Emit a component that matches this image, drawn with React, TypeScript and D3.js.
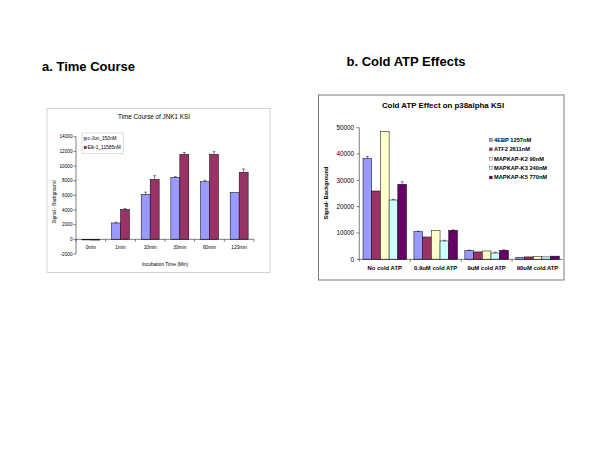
import React from "react";
import * as d3 from "d3";

// ---- Chart a data ----
const timeCats = ["0min", "1min", "10min", "30min", "60min", "120min"];
const timeSeries = ["c-Jun_150nM", "Elk-1_11585nM"];
const cJunValues = [-50, 2230, 6140, 8450, 7860, 6400];
const cJunErrors = [0, 100, 300, 100, 200, 0];
const elkValues = [-100, 4090, 8180, 11590, 11600, 9140];
const elkErrors = [0, 100, 500, 250, 350, 450];
const timeTicks = [-2000, 0, 2000, 4000, 6000, 8000, 10000, 12000, 14000];
const timeColors = ["#9999FF", "#993366"];

// ---- Chart b data ----
const atpCats = ["No cold ATP", "0.9uM cold ATP", "9uM cold ATP", "90uM cold ATP"];
const atpSeries = ["4EBP 1257nM", "ATF2 2611nM", "MAPKAP-K2 90nM", "MAPKAP-K3 240nM", "MAPKAP-K5 770nM"];
const ebpValues = [38350, 10500, 3300, 800];
const ebpErrors = [700, 200, 200, 0];
const atf2Values = [25950, 8480, 2800, 900];
const atf2Errors = [0, 0, 0, 0];
const k2Values = [48600, 11000, 3160, 1000];
const k2Errors = [0, 0, 0, 0];
const k3Values = [22530, 6960, 2400, 900];
const k3Errors = [250, 250, 300, 0];
const k5Values = [28480, 11000, 3400, 1200];
const k5Errors = [1000, 200, 200, 0];
const atpTicks = [0, 10000, 20000, 30000, 40000, 50000];
const atpColors = ["#9999FF", "#993366", "#FFFFCC", "#CCFFFF", "#660066"];

const FONT = "'Liberation Sans', Arial, sans-serif";

function ChartA() {
  const x0 = d3.scaleBand<string>().domain(timeCats).range([76, 254]);
  const y = d3.scaleLinear().domain([-2000, 14000]).range([254, 136.7]);
  const bw = x0.bandwidth() / 3.3;
  const x1 = d3.scaleBand<string>().domain(timeSeries).range([0, bw * 2]);
  const vals = [cJunValues, elkValues];
  const errs = [cJunErrors, elkErrors];
  const y0 = y(0);
  return (
    <g fontFamily={FONT}>
      <rect x={47} y={108.5} width={223} height={164} fill="white" stroke="#c8c8c8" strokeWidth={0.8} />
      <text x={154} y={119} fontSize={6.3} textAnchor="middle" fill="#000">Time Course of JNK1 KSI</text>
      {timeCats.map((c, i) => (
        <g key={c}>
          {timeSeries.map((s, j) => {
            const v = vals[j][i];
            const bx = (x0(c) as number) + (x0.bandwidth() - bw * 2) / 2 + (x1(s) as number);
            const top = y(Math.max(v, 0));
            const h = Math.abs(y(v) - y0);
            const e = errs[j][i];
            const cx = bx + bw / 2;
            return (
              <g key={s}>
                <rect x={bx} y={top} width={bw} height={Math.max(h, 0.6)} fill={timeColors[j]} stroke="#000" strokeWidth={0.5} />
                {e > 0 && (
                  <g stroke="#000" strokeWidth={0.5}>
                    <line x1={cx} x2={cx} y1={y(v)} y2={y(v + e)} />
                    <line x1={cx - 1.5} x2={cx + 1.5} y1={y(v + e)} y2={y(v + e)} />
                  </g>
                )}
              </g>
            );
          })}
        </g>
      ))}
      <line x1={76} x2={76} y1={y(14000)} y2={y(-2000)} stroke="#000" strokeWidth={0.5} />
      {timeTicks.map((t) => (
        <g key={t}>
          <line x1={73.5} x2={76} y1={y(t)} y2={y(t)} stroke="#000" strokeWidth={0.5} />
          <text x={72.5} y={y(t) + 1.7} fontSize={4.7} textAnchor="end">{t}</text>
        </g>
      ))}
      <line x1={76} x2={254} y1={y0} y2={y0} stroke="#000" strokeWidth={0.5} />
      {timeCats.map((c) => (
        <line key={"t" + c} x1={x0(c) as number} x2={x0(c) as number} y1={y0} y2={y0 + 2.5} stroke="#000" strokeWidth={0.5} />
      ))}
      <line x1={254} x2={254} y1={y0} y2={y0 + 2.5} stroke="#000" strokeWidth={0.5} />
      {timeCats.map((c) => (
        <text key={"l" + c} x={(x0(c) as number) + x0.bandwidth() / 2} y={248.5} fontSize={4.8} textAnchor="middle">{c}</text>
      ))}
      <text x={165} y={266} fontSize={4.8} textAnchor="middle">Incubation Time (Min)</text>
      <text transform="translate(55.5,202) rotate(-90)" fontSize={4.8} textAnchor="middle">Signal - Background</text>
      <rect x={82} y={133} width={41.5} height={20.5} fill="white" stroke="#c8c8c8" strokeWidth={0.6} />
      {timeSeries.map((s, j) => (
        <g key={s}>
          <rect x={84} y={137.5 + j * 8.7} width={2.6} height={2.6} fill={timeColors[j]} stroke="#000" strokeWidth={0.3} />
          <text x={87.5} y={140.3 + j * 8.7} fontSize={4.8}>{s}</text>
        </g>
      ))}
    </g>
  );
}

function ChartB() {
  const x0 = d3.scaleBand<string>().domain(atpCats).range([359.3, 563]);
  const y = d3.scaleLinear().domain([0, 50000]).range([259.3, 127.7]);
  const bw = x0.bandwidth() / 5.85;
  const x1 = d3.scaleBand<string>().domain(atpSeries).range([0, bw * 5]);
  const vals = [ebpValues, atf2Values, k2Values, k3Values, k5Values];
  const errs = [ebpErrors, atf2Errors, k2Errors, k3Errors, k5Errors];
  const y0 = y(0);
  return (
    <g fontFamily={FONT} fontWeight="bold">
      <rect x={318.5} y={95} width={245.5} height={185} fill="white" stroke="#7a7a7a" strokeWidth={1} />
      <text x={443} y={108} fontSize={7.9} textAnchor="middle">Cold ATP Effect on p38alpha KSI</text>
      {atpCats.map((c, i) => (
        <g key={c}>
          {atpSeries.map((s, j) => {
            const v = vals[j][i];
            const bx = (x0(c) as number) + (x0.bandwidth() - bw * 5) / 2 + (x1(s) as number);
            const e = errs[j][i];
            const cx = bx + bw / 2;
            return (
              <g key={s}>
                <rect x={bx} y={y(v)} width={bw} height={y0 - y(v)} fill={atpColors[j]} stroke="#000" strokeWidth={0.5} />
                {e > 0 && (
                  <g stroke="#000" strokeWidth={0.5}>
                    <line x1={cx} x2={cx} y1={y(v)} y2={y(v + e)} />
                    <line x1={cx - 1.5} x2={cx + 1.5} y1={y(v + e)} y2={y(v + e)} />
                  </g>
                )}
              </g>
            );
          })}
        </g>
      ))}
      <line x1={359.3} x2={359.3} y1={y(50000)} y2={y0} stroke="#000" strokeWidth={0.5} />
      {atpTicks.map((t) => (
        <g key={t}>
          <line x1={356.5} x2={359.3} y1={y(t)} y2={y(t)} stroke="#000" strokeWidth={0.5} />
          <text x={354} y={y(t) + 2.2} fontSize={6.3} fontWeight="normal" textAnchor="end">{t}</text>
        </g>
      ))}
      <line x1={359.3} x2={563} y1={y0} y2={y0} stroke="#000" strokeWidth={0.5} />
      {atpCats.map((c) => (
        <line key={"t" + c} x1={x0(c) as number} x2={x0(c) as number} y1={y0} y2={y0 + 2.5} stroke="#000" strokeWidth={0.5} />
      ))}
      {atpCats.map((c) => (
        <text key={"l" + c} x={(x0(c) as number) + x0.bandwidth() / 2} y={270.3} fontSize={5.9} textAnchor="middle">{c}</text>
      ))}
      <text transform="translate(327.5,193) rotate(-90)" fontSize={5.6} textAnchor="middle">Signal- Background</text>
      {atpSeries.map((s, j) => (
        <g key={s}>
          <rect x={489.5} y={138.5 + j * 9.4} width={2.8} height={2.8} fill={atpColors[j]} stroke="#000" strokeWidth={0.3} />
          <text x={494} y={141.7 + j * 9.4} fontSize={5.7}>{s}</text>
        </g>
      ))}
    </g>
  );
}

export default function App() {
  return (
    <svg width={600} height={450} style={{ position: "absolute", left: 0, top: 0, background: "white" }}>
      <rect x={0} y={0} width={600} height={450} fill="white" />
      <text x={42} y={71} fontFamily={FONT} fontWeight="bold" fontSize={13} fill="#000">a. Time Course</text>
      <text x={346.5} y={66} fontFamily={FONT} fontWeight="bold" fontSize={13} fill="#000">b. Cold ATP Effects</text>
      <ChartA />
      <ChartB />
    </svg>
  );
}
